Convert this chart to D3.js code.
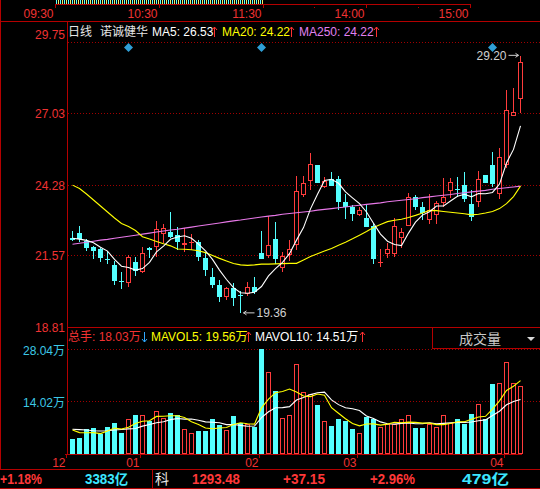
<!DOCTYPE html>
<html><head><meta charset="utf-8">
<script src="https://cdn.jsdelivr.net/npm/d3@7"></script>
<style>body{margin:0;background:#000;overflow:hidden}svg{display:block}</style>
</head><body>
<svg id="c" width="540" height="489"></svg>
<script>
// ---------------- DATA ----------------
const opens  = [22.22,22.41,22.12,21.90,21.81,21.41,21.20,20.59,20.49,21.31,20.94,21.83,21.90,22.39,22.47,22.35,21.97,22.03,22.09,21.45,20.75,20.43,19.98,20.30,20.04,20.08,20.36,21.65,21.55,22.19,21.09,21.58,21.95,23.87,24.43,25.03,24.20,24.49,24.50,23.62,23.42,23.11,22.99,22.70,21.26,21.62,21.61,22.24,22.70,23.82,23.42,22.92,23.11,23.56,24.05,24.11,24.26,23.54,23.60,24.65,25.03,23.91,25.03,26.92,27.55];
const highs  = [22.50,22.69,22.18,21.93,21.84,21.73,21.36,20.93,21.58,21.49,21.90,21.88,22.88,22.76,23.24,22.65,22.60,22.37,22.16,21.65,21.07,20.62,20.36,20.49,20.20,20.56,20.75,22.51,23.06,22.86,21.71,22.14,24.61,24.61,25.48,25.03,24.57,24.76,24.62,23.92,23.50,23.43,23.50,22.80,21.81,22.03,22.99,22.60,23.95,23.87,23.62,23.91,23.65,24.52,24.52,24.58,24.75,24.07,24.79,24.65,25.52,25.67,27.91,27.97,29.20];
const lows   = [22.13,22.09,21.75,21.41,21.30,21.25,20.43,20.28,20.36,20.77,20.90,21.45,21.49,22.05,22.25,21.78,21.71,21.78,21.35,20.77,20.30,19.79,19.85,19.63,19.36,20.01,20.08,21.41,21.48,21.23,20.94,21.36,21.77,23.82,24.07,24.33,24.15,24.24,23.31,22.97,22.90,23.06,22.65,21.23,21.11,21.48,21.51,21.84,22.69,23.31,22.92,22.76,22.76,23.43,23.78,23.82,23.62,22.90,23.43,24.33,24.20,23.73,24.91,26.92,27.04];
const closes = [22.14,22.18,21.86,21.75,21.48,21.37,20.59,20.56,21.51,20.97,21.65,21.79,22.57,22.62,22.27,22.09,22.03,22.09,21.51,21.00,20.43,19.98,20.30,19.92,20.01,20.36,20.17,21.41,21.95,21.43,21.54,21.80,24.03,24.33,25.07,24.33,24.42,24.24,23.60,23.43,23.16,23.31,22.67,21.43,21.32,21.80,22.69,22.45,23.82,23.43,23.18,23.31,23.56,23.82,24.37,24.07,23.73,23.05,24.48,24.33,24.29,25.33,27.13,27.05,28.97];
const ma5    = [22.22,22.19,22.14,22.05,21.88,21.73,21.41,21.15,21.10,21.00,21.06,21.30,21.70,21.92,22.18,22.27,22.32,22.22,22.00,21.74,21.41,21.00,20.64,20.33,20.13,20.11,20.15,20.37,20.78,21.06,21.30,21.63,22.15,22.63,23.35,23.91,24.44,24.48,24.33,24.00,23.77,23.55,23.23,22.80,22.38,22.11,21.98,21.94,22.42,22.84,23.11,23.24,23.46,23.46,23.65,23.83,23.91,23.81,23.94,23.93,23.98,24.30,25.11,25.63,26.53];
const ma20   = [24.26,24.13,23.92,23.69,23.46,23.23,23.00,22.79,22.67,22.52,22.28,22.19,22.10,22.01,21.93,21.81,21.80,21.78,21.74,21.67,21.56,21.45,21.35,21.25,21.20,21.18,21.20,21.23,21.23,21.24,21.25,21.26,21.26,21.39,21.52,21.63,21.73,21.83,21.95,22.07,22.20,22.34,22.48,22.63,22.75,22.86,22.91,22.95,23.02,23.10,23.19,23.29,23.28,23.25,23.22,23.19,23.16,23.12,23.14,23.19,23.25,23.36,23.55,23.82,24.22];
const ma250  = [21.99,22.03,22.07,22.11,22.15,22.18,22.22,22.26,22.30,22.34,22.38,22.42,22.46,22.50,22.54,22.57,22.61,22.65,22.69,22.73,22.77,22.81,22.85,22.89,22.92,22.96,23.00,23.04,23.07,23.10,23.14,23.17,23.20,23.23,23.26,23.30,23.33,23.36,23.39,23.42,23.46,23.49,23.52,23.55,23.58,23.62,23.65,23.68,23.71,23.74,23.78,23.81,23.84,23.87,23.90,23.94,23.97,24.00,24.03,24.06,24.10,24.13,24.16,24.19,24.22];
// volume, unit 万手
const volumes = [3.83,4.10,6.68,6.94,5.16,7.21,8.09,5.43,9.34,10.22,10.22,8.70,11.28,9.60,10.75,10.22,6.49,5.61,5.96,5.96,9.15,7.56,6.30,9.95,8.27,7.82,7.10,28.04,21.84,16.87,9.42,10.22,24.05,16.52,16.07,12.88,8.62,7.29,9.15,8.70,6.49,5.43,9.76,9.34,7.10,7.82,7.82,9.15,10.22,6.76,6.76,7.82,7.21,10.22,8.27,9.15,7.82,10.48,13.33,9.15,18.73,18.91,24.50,18.91,18.03];
const mavol5  = [6.30,5.61,5.56,5.61,5.34,6.02,6.82,6.57,7.05,8.06,8.66,8.78,9.95,10.00,10.11,10.11,9.67,8.53,7.81,6.85,6.63,6.85,6.99,7.78,8.25,7.98,7.89,12.24,14.61,16.33,16.65,17.28,16.48,15.42,15.26,15.95,15.63,12.28,10.80,9.33,8.05,7.41,7.91,7.94,7.62,7.89,8.37,8.25,8.42,8.35,8.14,8.14,7.75,7.75,8.06,8.53,8.53,9.19,9.81,9.99,11.90,14.12,16.92,18.04,19.56];
const mavol10 = [6.49,6.40,6.30,6.10,6.04,6.10,6.30,6.45,6.60,6.70,7.34,7.80,8.26,8.53,9.08,9.39,9.23,9.24,8.91,8.48,8.37,8.26,7.76,7.80,7.55,7.31,7.37,9.61,11.20,12.29,12.32,12.58,14.36,15.02,15.80,16.30,16.45,14.38,13.11,12.29,12.00,11.52,10.09,9.37,8.48,7.97,7.89,8.08,8.18,7.99,8.02,8.26,8.00,8.09,8.21,8.34,8.34,8.47,8.78,9.02,10.22,11.33,13.06,13.93,14.51];
const priceTicks = [29.75,27.03,24.28,21.57,18.81];
const volTicks = [28.04,14.02];
const volTickLabels = ["28.04万","14.02万"];
const monthLabels = ["12","01","02","03","04"];
const monthStart = [0,10,27,41,62];
const timeLabels = ["09:30","10:30","11:30","14:00","15:00"];
const timeMinutes = [0,60,120,180,240];
const halfHourMinutes = [150,210];
const eventIdx = [8,27,60];
const stockName = "诺诚健华";
const periodName = "日线";
const statusItems = [
  {t:"+1.18%", c:"red"},{t:"3383亿", c:"cyan"},{t:"科", c:"white"},{t:"1293.48", c:"red"},
  {t:"+37.15", c:"red"},{t:"+2.96%", c:"red"},{t:"479亿", c:"cyan"}];

// ---------------- STYLE ----------------
const RED="#b40000", GRID="#a00000", TRED="#f03232", UP="#ff3c3c", DOWN="#54ffff";
const FONT="'Liberation Sans', Arial, 'Noto Sans CJK SC', sans-serif";
const CJK="'Liberation Sans','Noto Sans CJK SC', sans-serif";
const svg=d3.select("#c");
svg.append("rect").attr("width",540).attr("height",489).attr("fill","#000");

const n=closes.length;
const x=d3.scaleLinear().domain([0,n-1]).range([72.5,520.5]);
const y=d3.scaleLinear().domain([18.81,29.75]).range([327.2,42]);
const yv=d3.scaleLinear().domain([0,28.04]).range([453.5,349]);
const xt=d3.scaleLinear().domain([0,240]).range([55,470]);

const frame=svg.append("g").attr("shape-rendering","crispEdges");
function hline(g,x1,x2,yy,col,dash){const l=g.append("line").attr("x1",x1).attr("x2",x2).attr("y1",yy).attr("y2",yy).attr("stroke",col).attr("stroke-width",1);if(dash)l.attr("stroke-dasharray",dash);return l;}
function vline(g,xx,y1,y2,col){return g.append("line").attr("x1",xx).attr("x2",xx).attr("y1",y1).attr("y2",y2).attr("stroke",col).attr("stroke-width",1);}

// ---------- top time bar ----------
const defs=svg.append("defs");
const pat=defs.append("pattern").attr("id","strip").attr("width",4).attr("height",4).attr("patternUnits","userSpaceOnUse");
pat.append("rect").attr("x",0).attr("width",1).attr("height",4).attr("fill","#5ff");
pat.append("rect").attr("x",2).attr("width",1).attr("height",4).attr("fill","#ee6");
frame.append("rect").attr("x",xt(0)).attr("y",0).attr("width",xt(120)-xt(0)).attr("height",4).attr("fill","url(#strip)");
hline(frame,xt(0),xt(240)+1,4.5,RED);
timeMinutes.forEach((m,i)=>{
  const xx=Math.round(xt(m))+0.5;
  vline(frame,xx,4,8,RED);
  svg.append("text").attr("x",xx-2).attr("y",17.5).attr("text-anchor","end")
    .attr("font-family",FONT).attr("font-size",12).attr("fill",TRED).text(timeLabels[i]);
});
halfHourMinutes.forEach(m=>{vline(frame,Math.round(xt(m))+0.5,4,8,RED).attr("stroke-dasharray","1,2");});
hline(frame,0,540,21.5,RED);
vline(frame,0.5,0,469,RED);

// ---------- panels frame ----------
vline(frame,67.5,21,454,RED);
hline(frame,67,540,327.5,RED);
priceTicks.forEach((t,i)=>{
  const yy=Math.round(y(t))+0.5;
  if(i<priceTicks.length-1) hline(frame,68,540,yy,GRID,"1,2");
  const ty = i===0 ? yy-4 : yy+4.5;
  svg.append("text").attr("x",65).attr("y",ty).attr("text-anchor","end")
    .attr("font-family",FONT).attr("font-size",12).attr("fill",TRED).text(t.toFixed(2));
});
volTicks.forEach((t,i)=>{
  const yy=Math.round(yv(t))+0.5;
  hline(frame,68,540,yy,GRID,"1,2");
  svg.append("text").attr("x",65).attr("y",yy+5).attr("text-anchor","end")
    .attr("font-family",CJK).attr("font-size",12).attr("fill","#3cc8e6").text(volTickLabels[i]);
});
hline(frame,65,522,454.5,RED);
monthStart.forEach((s,i)=>{
  const xx=(i===0 ? 66 : Math.round(x(s)-3))+0.5;
  vline(frame,xx,454,458,RED);
  svg.append("text").attr("x",xx-1).attr("y",466.5).attr("text-anchor","end")
    .attr("font-family",FONT).attr("font-size",12).attr("fill",TRED).text(monthLabels[i]);
});

// ---------- legends ----------
function arrow(g,xx,y1,y2,col){
  g.append("line").attr("x1",xx).attr("x2",xx).attr("y1",y1).attr("y2",y2).attr("stroke",col).attr("stroke-width",1);
  const d=y2<y1?3:-3;
  g.append("path").attr("d",`M${xx-2.5},${y2+d}L${xx},${y2}L${xx+2.5},${y2+d}`).attr("fill","none").attr("stroke",col).attr("stroke-width",1);
}
const lg=svg.append("g").attr("font-size",12);
lg.append("text").attr("x",68).attr("y",36).attr("font-family",CJK).attr("fill","#e6e6e6").text(periodName);
lg.append("text").attr("x",100).attr("y",36).attr("font-family",CJK).attr("fill","#e6e6e6").text(stockName);
const maLeg=[{t:"MA5: "+ma5[n-1].toFixed(2),c:"#ffffff",x:152,a:214.5},{t:"MA20: "+ma20[n-1].toFixed(2),c:"#ffff00",x:222,a:291.5},{t:"MA250: "+ma250[n-1].toFixed(2),c:"#e080f0",x:299,a:376.5}];
maLeg.forEach(m=>{lg.append("text").attr("x",m.x).attr("y",36).attr("font-family",FONT).attr("fill",m.c).text(m.t);arrow(lg,m.a,37,27,"#ff3030");});

const vl=svg.append("g").attr("font-size",12).attr("font-family",CJK);
vl.append("text").attr("x",68).attr("y",341).attr("fill",TRED).text("总手: "+volumes[n-1].toFixed(2)+"万");
arrow(vl,144.5,332,342,"#30a8ff");
vl.append("text").attr("x",151).attr("y",341).attr("fill","#ffff00").text("MAVOL5: "+mavol5[n-1].toFixed(2)+"万");
arrow(vl,248.5,342,332,"#ff3030");
vl.append("text").attr("x",255).attr("y",341).attr("fill","#ffffff").text("MAVOL10: "+mavol10[n-1].toFixed(2)+"万");
arrow(vl,362.5,342,332,"#ff3030");
frame.append("rect").attr("x",432.5).attr("y",327.5).attr("width",108).attr("height",21).attr("fill","#000").attr("stroke",RED);
svg.append("text").attr("x",480).attr("y",344).attr("text-anchor","middle").attr("font-family",CJK).attr("font-size",14).attr("fill","#c8c8c8").text("成交量");
svg.append("path").attr("d","M527,337L535,337L531,341Z").attr("fill","#d8d8d8");

// ---------- candles ----------
const cg=svg.append("g").attr("shape-rendering","crispEdges");
d3.range(n).forEach(i=>{
  const up=closes[i]>=opens[i];
  const cx=x(i);
  const top=Math.round(Math.min(y(opens[i]),y(closes[i]))), bot=Math.round(Math.max(y(opens[i]),y(closes[i])));
  const yh=Math.round(y(highs[i])), yl=Math.round(y(lows[i]));
  if(up){
    if(yh<top) vline(cg,cx,yh,top,UP);
    if(yl>bot) vline(cg,cx,bot,yl,UP);
    if(bot-top>=2) cg.append("rect").attr("x",cx-2).attr("y",top+0.5).attr("width",4).attr("height",bot-top-1).attr("fill","#000").attr("stroke",UP);
    else cg.append("rect").attr("x",cx-2.5).attr("y",top).attr("width",5).attr("height",Math.max(1,bot-top)).attr("fill",UP);
  } else {
    vline(cg,cx,yh,yl,DOWN);
    cg.append("rect").attr("x",cx-2.5).attr("y",top).attr("width",5).attr("height",Math.max(1,bot-top)).attr("fill",DOWN);
  }
});

// ---------- volume bars ----------
const vg=svg.append("g").attr("shape-rendering","crispEdges");
d3.range(n).forEach(i=>{
  const up=closes[i]>=opens[i];
  const cx=x(i), t=Math.round(yv(volumes[i]));
  if(up) vg.append("rect").attr("x",cx-2).attr("y",t+0.5).attr("width",4).attr("height",453-t-0.5).attr("fill","#000").attr("stroke",UP);
  else vg.append("rect").attr("x",cx-2.5).attr("y",t).attr("width",5).attr("height",454-t).attr("fill",DOWN);
});

// ---------- MA lines ----------
const lineP=arr=>d3.line().x((d,i)=>x(i)).y(d=>y(d))(arr);
const lineV=arr=>d3.line().x((d,i)=>x(i)).y(d=>yv(d))(arr);
svg.append("path").attr("d",lineP(ma250)).attr("fill","none").attr("stroke","#e878e8").attr("stroke-width",1.1);
svg.append("path").attr("d",lineP(ma20)).attr("fill","none").attr("stroke","#ffff00").attr("stroke-width",1.1);
svg.append("path").attr("d",lineP(ma5)).attr("fill","none").attr("stroke","#ffffff").attr("stroke-width",1.1);
svg.append("path").attr("d",lineV(mavol10)).attr("fill","none").attr("stroke","#ffffff").attr("stroke-width",1.1);
svg.append("path").attr("d",lineV(mavol5)).attr("fill","none").attr("stroke","#ffff00").attr("stroke-width",1.1);

// ---------- markers ----------
eventIdx.forEach(i=>{
  const cx=x(i), cy=47.5;
  svg.append("path").attr("d",`M${cx},${cy-4.5}L${cx+4.5},${cy}L${cx},${cy+4.5}L${cx-4.5},${cy}Z`).attr("fill","#2f9fd6");
});
const iMax=d3.maxIndex(highs), iMin=d3.minIndex(lows);
const hy=y(highs[iMax]);
svg.append("line").attr("x1",x(iMax)-12).attr("x2",x(iMax)-2).attr("y1",hy-1).attr("y2",hy-1).attr("stroke","#d0d0d0");
svg.append("path").attr("d",`M${x(iMax)-5},${hy-3}L${x(iMax)-2},${hy-1}L${x(iMax)-5},${hy+1}`).attr("fill","none").attr("stroke","#d0d0d0");
svg.append("text").attr("x",x(iMax)-14).attr("y",hy+3.5).attr("text-anchor","end").attr("font-family",FONT).attr("font-size",12).attr("fill","#d0d0d0").text(highs[iMax].toFixed(2));
const ly=y(lows[iMin]);
svg.append("line").attr("x1",x(iMin)+3).attr("x2",x(iMin)+14).attr("y1",ly).attr("y2",ly).attr("stroke","#d0d0d0");
svg.append("path").attr("d",`M${x(iMin)+6},${ly-2}L${x(iMin)+3},${ly}L${x(iMin)+6},${ly+2}`).attr("fill","none").attr("stroke","#d0d0d0");
svg.append("text").attr("x",x(iMin)+16).attr("y",ly+4.5).attr("font-family",FONT).attr("font-size",12).attr("fill","#d0d0d0").text(lows[iMin].toFixed(2));

// ---------- status bar ----------
hline(frame,0,540,469.5,RED);
hline(frame,0,540,488.5,RED);
vline(frame,152.5,469,489,RED);
const sx=[0,85,155,192,283,370,462], sw=[42,43,0,48,42,45,47];
const scol={red:"#ff3838",cyan:"#3ce6ff",white:"#e8e8e8"};
statusItems.forEach((s,i)=>{
  const t=svg.append("text").attr("x",sx[i]).attr("y",484).attr("fill",scol[s.c]).attr("font-size",14);
  if(s.c==="white"){t.attr("font-family","'Noto Sans CJK SC'").text(s.t);}
  else {t.attr("font-family","'Liberation Sans','Noto Sans CJK SC'").attr("font-weight","bold").attr("textLength",sw[i]).attr("lengthAdjust","spacingAndGlyphs").text(s.t);}
});
</script>
</body></html>
